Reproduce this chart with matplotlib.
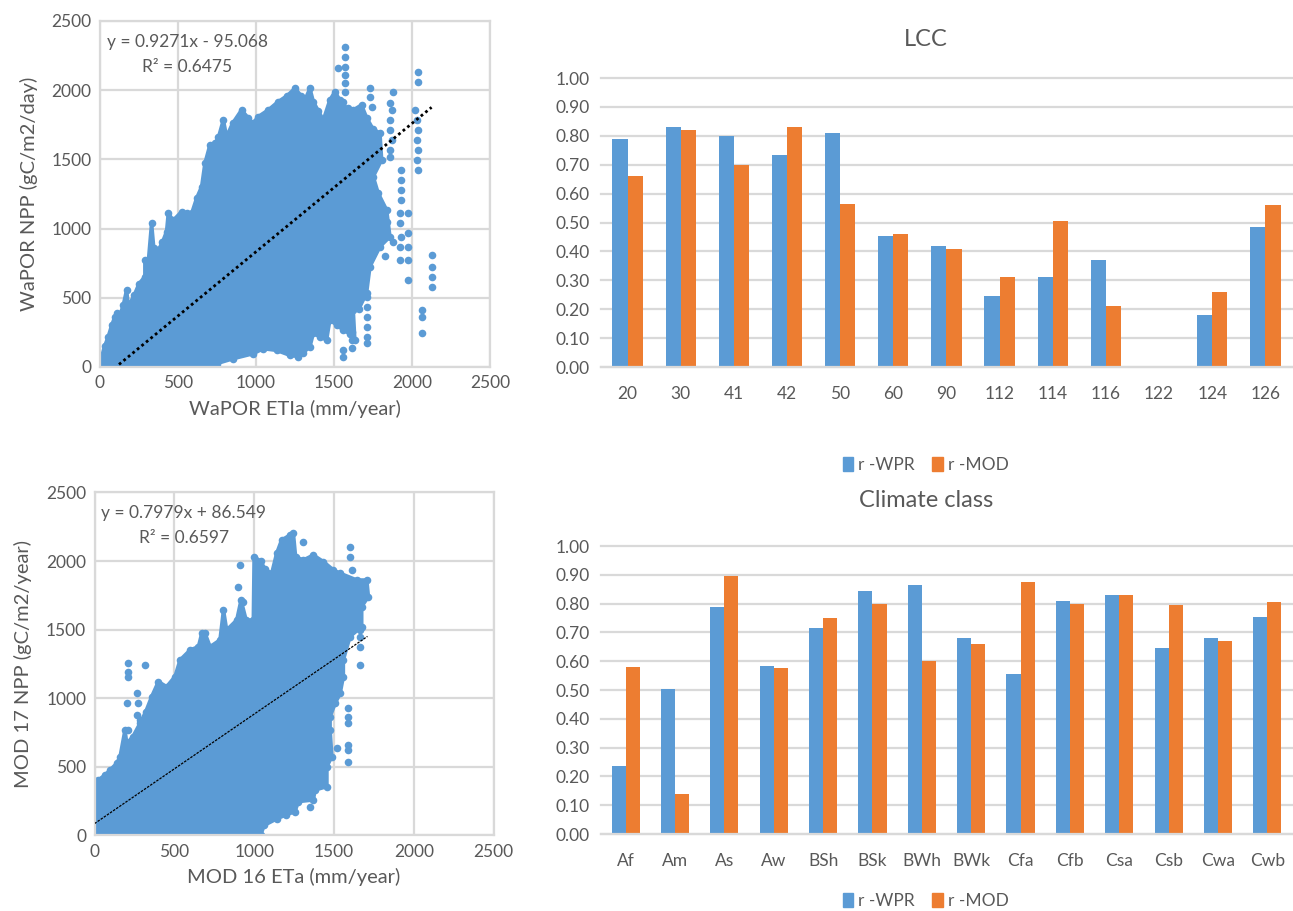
#!/usr/bin/env python3

from __future__ import annotations

import matplotlib

matplotlib.use("Agg")
import matplotlib.pyplot as plt
import numpy as np
from matplotlib.patches import Patch


# ---- bar charts: correlation per class ----
LCC_CLASSES = ["20", "30", "41", "42", "50", "60", "90", "112", "114", "116", "122", "124", "126"]
LCC_R_WPR = [0.79, 0.83, 0.80, 0.735, 0.81, 0.455, 0.42, 0.245, 0.31, 0.37, 0.0, 0.18, 0.485]
LCC_R_MOD = [0.66, 0.82, 0.70, 0.83, 0.565, 0.46, 0.41, 0.31, 0.505, 0.21, 0.0, 0.26, 0.56]

CLIMATE_CLASSES = ["Af", "Am", "As", "Aw", "BSh", "BSk", "BWh", "BWk", "Cfa", "Cfb", "Csa", "Csb", "Cwa", "Cwb"]
CLIMATE_R_WPR = [0.235, 0.505, 0.79, 0.585, 0.715, 0.845, 0.865, 0.68, 0.555, 0.81, 0.83, 0.645, 0.68, 0.755]
CLIMATE_R_MOD = [0.58, 0.14, 0.895, 0.575, 0.75, 0.80, 0.60, 0.66, 0.875, 0.80, 0.83, 0.795, 0.67, 0.805]

# ---- WaPOR scatter: outline of the dense point cloud + isolated points ----
WAPOR_CLOUD_X = [0, 0, 11, 30, 53, 75, 96, 107, 130, 150, 171, 182, 220, 250, 288, 288, 310, 331, 345, 374,
                 400, 427, 438, 470, 523, 560, 588, 620, 652, 673, 705, 737, 760, 791, 812, 850, 908, 950,
                 980, 1015, 1079, 1143, 1200, 1250, 1290, 1314, 1346, 1368, 1400, 1432, 1474, 1506, 1538,
                 1560, 1590, 1624, 1677, 1710, 1750, 1795, 1806, 1752, 1784, 1838, 1859, 1795, 1731, 1709,
                 1660, 1624, 1634, 1600, 1560, 1520, 1474, 1453, 1410, 1368, 1346, 1300, 1271, 1218, 1132,
                 1047, 983, 855, 748, 700]
WAPOR_CLOUD_Y = [0, 40, 75, 150, 219, 300, 364, 388, 380, 450, 556, 436, 520, 600, 653, 773, 760, 1038, 860, 845,
                 900, 978, 1110, 1060, 1122, 1110, 1110, 1220, 1303, 1472, 1604, 1616, 1660, 1785, 1664, 1760,
                 1857, 1800, 1760, 1809, 1857, 1917, 1960, 2013, 1960, 1929, 2013, 1917, 1850, 1785, 1929,
                 1989, 1929, 1880, 1870, 1857, 1893, 1800, 1720, 1689, 1496, 1375, 1255, 1134, 941, 869, 725,
                 532, 420, 409, 195, 240, 267, 300, 340, 195, 217, 243, 145, 100, 75, 84, 120, 132, 96, 60, 24, 0]
WAPOR_OUT_X = [1570, 1570, 1570, 1528, 1570, 1570, 1570, 1560, 1731, 1731, 1742, 1880, 1860, 1870, 1860, 1860,
               1870, 1860, 1860, 1933, 1933, 1933, 1933, 1923, 1923, 1933, 1923, 1923, 1976, 1976, 1976, 1976,
               1976, 2041, 2041, 2020, 2030, 2041, 2030, 2041, 2030, 2041, 2126, 2126, 2126, 2126, 2062, 2062,
               2062, 1709, 1709, 1709, 1709, 1709, 1709, 1560, 1560, 1613, 1613, 1613, 1838, 1880, 1830]
WAPOR_OUT_Y = [2315, 2242, 2170, 2158, 2110, 2050, 1989, 1917, 2013, 1953, 1881, 1989, 1905, 1857, 1785, 1713,
               1640, 1568, 1520, 1423, 1351, 1279, 1207, 1110, 1038, 942, 869, 773, 1110, 965, 869, 773,
               629, 2134, 2062, 1857, 1785, 1713, 1640, 1568, 1496, 1423, 809, 725, 653, 580, 412, 364,
               243, 508, 436, 364, 292, 219, 171, 123, 75, 255, 195, 135, 1050, 900, 800]
WAPOR_FIT_SLOPE = 0.9271
WAPOR_FIT_INTERCEPT = -95.068
WAPOR_R2 = 0.6475
WAPOR_FIT_X = [122, 2126]

# ---- MOD scatter ----
MOD_CLOUD_X = [0, 3, 24, 66, 97, 139, 160, 191, 202, 240, 285, 320, 358, 400, 452, 504, 536, 599, 651, 672,
               693, 724, 786, 808, 828, 891, 918, 950, 995, 1000, 1040, 1070, 1110, 1141, 1172, 1225, 1246,
               1260, 1309, 1371, 1434, 1497, 1539, 1643, 1706, 1716, 1674, 1674, 1601, 1559, 1559, 1539,
               1508, 1476, 1476, 1487, 1456, 1456, 1382, 1371, 1277, 1256, 1200, 1141, 1062, 1041]
MOD_CLOUD_Y = [0, 332, 405, 441, 477, 526, 575, 769, 672, 720, 818, 900, 1012, 1121, 1085, 1158, 1279, 1352,
               1376, 1473, 1473, 1376, 1425, 1643, 1498, 1570, 1716, 1570, 1570, 2032, 2000, 1940, 1910,
               2056, 2153, 2190, 2202, 2030, 2008, 2044, 1996, 1935, 1911, 1862, 1862, 1741, 1668, 1522,
               1450, 1279, 1158, 1036, 963, 866, 769, 575, 502, 356, 332, 259, 247, 174, 150, 121, 73, 0]
MOD_OUT_X = [212, 212, 212, 316, 201, 275, 264, 285, 212, 264, 901, 912, 932, 1601, 1601, 1611, 1663, 1663,
             1663, 1663, 1590, 1590, 1590, 1590, 1590, 1590, 1517, 1348, 1246, 1309]
MOD_OUT_Y = [1255, 1194, 1158, 1243, 963, 963, 1036, 842, 769, 878, 1814, 1971, 1704, 2105, 2032, 1935, 1498,
             1450, 1377, 1243, 927, 866, 818, 660, 623, 539, 635, 210, 186, 2142]
MOD_FIT_SLOPE = 0.7979
MOD_FIT_INTERCEPT = 86.549
MOD_R2 = 0.6597
MOD_FIT_X = [0, 1710]

BLUE = "#5B9BD5"
ORANGE = "#ED7D31"
GRID = "#D9D9D9"
TEXT = "#595959"


def configure_matplotlib() -> None:
    plt.rcParams["font.family"] = ["Lato", "DejaVu Sans"]
    plt.rcParams["text.color"] = TEXT
    plt.rcParams["axes.labelcolor"] = TEXT
    plt.rcParams["xtick.color"] = TEXT
    plt.rcParams["ytick.color"] = TEXT


def style_scatter_axis(ax: plt.Axes, xlabel: str, ylabel: str) -> None:
    ax.set_xlim(0, 2500)
    ax.set_ylim(0, 2500)
    ax.set_xticks(range(0, 2501, 500))
    ax.set_yticks(range(0, 2501, 500))
    ax.tick_params(length=0, labelsize=12.5, pad=6)
    ax.grid(color=GRID, linewidth=1.6)
    ax.set_axisbelow(True)
    for spine in ax.spines.values():
        spine.set_color(GRID)
        spine.set_linewidth(1.6)
    ax.set_xlabel(xlabel, fontsize=14.5, labelpad=6)
    ax.set_ylabel(ylabel, fontsize=14.5, labelpad=10)


def plot_scatter(ax, cloud_x, cloud_y, out_x, out_y, fit_x, slope, intercept, r2, line_style, line_width, xlabel, ylabel):
    # dense cloud drawn as its outline, with a dot on each traced edge point
    ax.fill(cloud_x, cloud_y, color=BLUE, zorder=2, linewidth=0)
    ax.plot(cloud_x + cloud_x[:1], cloud_y + cloud_y[:1], color=BLUE, linewidth=2.6,
            solid_joinstyle="round", zorder=2)
    ax.scatter(cloud_x, cloud_y, s=30, color=BLUE, linewidths=0, zorder=2)
    ax.scatter(out_x, out_y, s=30, color=BLUE, linewidths=0, zorder=2)

    fit_x = np.array(fit_x, dtype=float)
    ax.plot(fit_x, slope * fit_x + intercept, color="black", linestyle=line_style,
            linewidth=line_width, zorder=3)

    sign = "-" if intercept < 0 else "+"
    ax.text(560, 2350, f"y = {slope:.4f}x {sign} {abs(intercept):.3f}", ha="center", va="center",
            fontsize=12.5, color=TEXT)
    ax.text(560, 2170, f"R\u00b2 = {r2:.4f}", ha="center", va="center", fontsize=12.5, color=TEXT)
    style_scatter_axis(ax, xlabel, ylabel)


def plot_bars(fig, ax, classes, wpr, mod, title, title_y, legend_y):
    x = np.arange(len(classes))
    width = 0.285
    ax.bar(x - width / 2, wpr, width=width, color=BLUE, zorder=2)
    ax.bar(x + width / 2, mod, width=width, color=ORANGE, zorder=2)
    ax.set_xlim(-0.5, len(classes) - 0.5)
    ax.set_ylim(0, 1.0)
    ax.set_yticks(np.arange(0, 1.01, 0.1))
    ax.set_yticklabels([f"{v:.2f}" for v in np.arange(0, 1.01, 0.1)])
    ax.set_xticks(x)
    ax.set_xticklabels(classes)
    ax.tick_params(length=0, labelsize=12.5)
    ax.tick_params(axis="x", pad=14)
    ax.tick_params(axis="y", pad=8)
    ax.grid(axis="y", color=GRID, linewidth=1.6, clip_on=False)
    ax.set_axisbelow(True)
    for side in ["top", "right", "left"]:
        ax.spines[side].set_visible(False)
    ax.spines["bottom"].set_color(GRID)
    ax.spines["bottom"].set_linewidth(1.6)

    fig.text(0.716, title_y, title, ha="center", va="center", fontsize=17, color=TEXT)
    handles = [Patch(color=BLUE, label="r -WPR"), Patch(color=ORANGE, label="r -MOD")]
    fig.legend(handles=handles, loc="center", bbox_to_anchor=(0.716, legend_y), ncol=2, frameon=False,
               fontsize=12.5, handlelength=0.6, handleheight=0.9, handletextpad=0.3, columnspacing=1.0)


def main() -> None:
    configure_matplotlib()
    fig = plt.figure(figsize=(12.93, 9.11), dpi=100)

    ax_wapor = fig.add_axes([0.0773, 0.5972, 0.3016, 0.3798])
    plot_scatter(ax_wapor, WAPOR_CLOUD_X, WAPOR_CLOUD_Y, WAPOR_OUT_X, WAPOR_OUT_Y, WAPOR_FIT_X,
                 WAPOR_FIT_SLOPE, WAPOR_FIT_INTERCEPT, WAPOR_R2, (0, (1, 1.1)), 2.0,
                 "WaPOR ETIa (mm/year)", "WaPOR NPP (gC/m2/day)")

    ax_mod = fig.add_axes([0.0731, 0.0829, 0.3086, 0.3765])
    plot_scatter(ax_mod, MOD_CLOUD_X, MOD_CLOUD_Y, MOD_OUT_X, MOD_OUT_Y, MOD_FIT_X,
                 MOD_FIT_SLOPE, MOD_FIT_INTERCEPT, MOD_R2, (0, (2, 1)), 0.9,
                 "MOD 16 ETa (mm/year)", "MOD 17 NPP (gC/m2/year)")

    ax_lcc = fig.add_axes([0.4648, 0.5971, 0.5344, 0.3172])
    plot_bars(fig, ax_lcc, LCC_CLASSES, LCC_R_WPR, LCC_R_MOD, "LCC", 0.957, 0.490)

    ax_climate = fig.add_axes([0.4648, 0.0845, 0.5344, 0.3161])
    plot_bars(fig, ax_climate, CLIMATE_CLASSES, CLIMATE_R_WPR, CLIMATE_R_MOD, "Climate class", 0.451, 0.011)

    fig.savefig("out.png", dpi=100)
    plt.close(fig)


if __name__ == "__main__":
    main()
